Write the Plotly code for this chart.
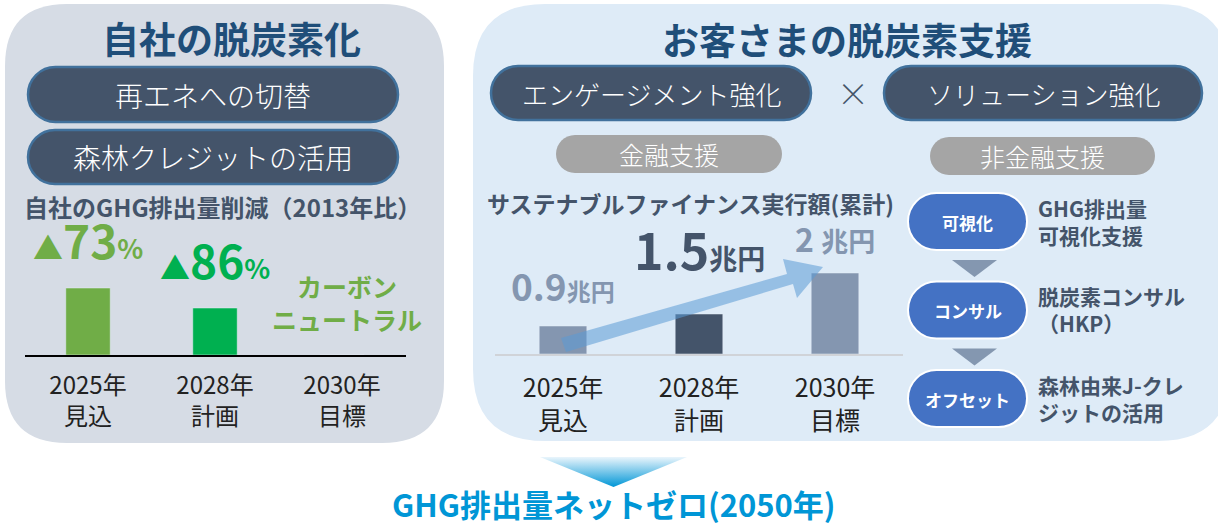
import plotly.graph_objects as go

# --- data -------------------------------------------------------------
years = ["2025年<br>見込", "2028年<br>計画", "2030年<br>目標"]

# own GHG reduction (vs 2013); bar heights as drawn in the picture
ghg_reduction = ["73", "86", None]
ghg_bar_height = [67, 47, 0]
ghg_bar_colors = ["#70ad47", "#00b050", "#00b050"]
ghg_label_colors = ["#70ad47", "#00b050"]

# sustainable finance (cumulative, trillion yen); bar heights as drawn
finance_value = ["0.9", "1.5", "2"]
finance_bar_height = [28, 40, 81]
finance_bar_colors = ["#8496b0", "#44546a", "#8496b0"]

flow_steps = ["可視化", "コンサル", "オフセット"]
flow_desc = ["GHG排出量<br>可視化支援", "脱炭素コンサル<br>（HKP）", "森林由来J-クレ<br>ジットの活用"]

W, H = 1218, 524
JP = "Noto Sans CJK JP"
NAVY = "#1f4e79"
SLATE = "#44546a"
K = 0.5523  # bezier circle factor


def rrect(x0, y0, x1, y1, r):
    return (f"M{x0+r},{y0} L{x1-r},{y0} Q{x1},{y0} {x1},{y0+r} L{x1},{y1-r} "
            f"Q{x1},{y1} {x1-r},{y1} L{x0+r},{y1} Q{x0},{y1} {x0},{y1-r} "
            f"L{x0},{y0+r} Q{x0},{y0} {x0+r},{y0} Z")


def pill(x0, y0, x1, y1):
    r = (y1 - y0) / 2
    ym = y0 + r
    k = r * K
    return (f"M{x0+r},{y0} L{x1-r},{y0} "
            f"C{x1-r+k},{y0} {x1},{ym-k} {x1},{ym} "
            f"C{x1},{ym+k} {x1-r+k},{y1} {x1-r},{y1} "
            f"L{x0+r},{y1} "
            f"C{x0+r-k},{y1} {x0},{ym+k} {x0},{ym} "
            f"C{x0},{ym-k} {x0+r-k},{y0} {x0+r},{y0} Z")


fig = go.Figure()

shapes = []
annotations = []


def shape(path, fill, line_color=None, line_width=0, layer="below"):
    shapes.append(dict(type="path", path=path, xref="x", yref="y", fillcolor=fill,
                       line=dict(color=line_color or fill, width=line_width), layer=layer))


def text(x, y, s, size, color, bold=False, xanchor="center", weight=None, align="center"):
    annotations.append(dict(x=x, y=y, xref="x", yref="y", text=f"<b>{s}</b>" if bold else s,
                            showarrow=False, xanchor=xanchor, yanchor="middle", align=align,
                            font=dict(family=JP, size=size, color=color,
                                      **({"weight": weight} if weight else {}))))


# panels
shape(rrect(5, 4, 444, 443, 62), "#d6dce5")
shape(rrect(473, 4, 1230, 441, 72), "#deebf7")

# left panel
text(231, 38, "自社の脱炭素化", 37, NAVY, bold=True)
shape(pill(28, 67, 398, 122), SLATE, "#41719c", 2.5)
shape(pill(28, 130, 398, 184), SLATE, "#41719c", 2.5)
text(213, 95, "再エネへの切替", 28, "white", weight=300)
text(213, 157, "森林クレジットの活用", 28, "white", weight=300)
text(222, 206, "自社のGHG排出量削減（2013年比）", 24, SLATE, bold=True)

# right panel
text(847, 39, "お客さまの脱炭素支援", 37, NAVY, bold=True)
shape(pill(491, 66, 811, 120), SLATE, "#41719c", 2.5)
shape(pill(884, 66, 1202, 120), SLATE, "#41719c", 2.5)
text(651, 93, "エンゲージメント強化", 26, "white", weight=300)
text(1043, 93, "ソリューション強化", 26, "white", weight=300)
text(853, 92, "×", 32, SLATE, weight=300)
shape(pill(556, 135, 782, 173), "#a5a5a5")
shape(pill(930, 137, 1155, 175), "#a5a5a5")
text(669, 154, "金融支援", 25, "white", weight=300)
text(1042, 156, "非金融支援", 25, "white", weight=300)
text(690, 203, "サステナブルファイナンス実行額(累計)", 23, SLATE, bold=True)

# flow of non-financial support
for i, (step, desc) in enumerate(zip(flow_steps, flow_desc)):
    y0 = 193 + i * 88.5
    shape(pill(908, y0, 1027, y0 + 57), "#4472c4", "white", 2)
    text(967.5, y0 + 29, step, 17, "white", bold=True)
    text(1036, y0 + 28, desc, 21, SLATE, bold=True, xanchor="left", align="left")
    if i < 2:
        ty = y0 + 67
        shape(f"M952,{ty} L997,{ty} L974.5,{ty+17} Z", "#8497b0")

# growth arrow over the finance bars
shape("M561,338 L787,274 L783,259 L823,267 L797,298 L793,284 L566,352 Z",
      "rgba(91,155,213,0.55)", layer="above")

# bottom arrow with gradient + net zero text
fig.add_trace(go.Scatter(
    x=[540, 687, 613.5, 540], y=[457, 457, 487, 457], mode="lines", fill="toself",
    line=dict(width=0), hoverinfo="skip", showlegend=False, xaxis="x", yaxis="y",
    fillgradient=dict(type="vertical", colorscale=[[0, "#0096d6"], [1, "#eaf5fc"]],
                      start=487, stop=457),
))
text(614, 503, "GHG排出量ネットゼロ(2050年)", 31, "#0096d6", bold=True)

# --- bar charts --------------------------------------------------------
fig.add_trace(go.Bar(x=[0, 1, 2], y=ghg_bar_height, marker_color=ghg_bar_colors,
                     width=0.35, xaxis="x2", yaxis="y2", hoverinfo="skip", showlegend=False))
fig.add_trace(go.Bar(x=[0, 1, 2], y=finance_bar_height, marker_color=finance_bar_colors,
                     width=0.35, xaxis="x3", yaxis="y3", hoverinfo="skip", showlegend=False))

for i, (pct, col) in enumerate(zip(ghg_reduction[:2], ghg_label_colors)):
    annotations.append(dict(
        x=i, y=ghg_bar_height[i], xref="x2", yref="y2", yanchor="bottom", yshift=14,
        showarrow=False, font=dict(family=JP, size=46, color=col),
        text=(f"<b><span style='font-size:30px'>▲</span>{pct}"
              f"<span style='font-size:27px'>%</span></b>")))
annotations.append(dict(x=2, y=0, xref="x2", yref="y2", yanchor="bottom", yshift=16,
                        xshift=5, showarrow=False,
                        font=dict(family=JP, size=25, color="#70ad47"),
                        text="<b>カーボン<br>ニュートラル</b>"))

fin_sizes = [(37, 24, "#8496b0"), (50, 28, SLATE), (32, 27, "#8496b0")]
fin_shift = [12, 28, 10]
for i, v in enumerate(finance_value):
    big, small, col = fin_sizes[i]
    sep = " " if i == 2 else ""
    annotations.append(dict(
        x=i, y=finance_bar_height[i], xref="x3", yref="y3", yanchor="bottom",
        yshift=fin_shift[i], showarrow=False, font=dict(family=JP, size=big, color=col),
        text=f"<b>{v}{sep}<span style='font-size:{small}px'>兆円</span></b>"))

hidden = dict(visible=False, fixedrange=True)
fig.update_layout(
    width=W, height=H, margin=dict(l=0, r=0, t=0, b=0),
    paper_bgcolor="white", plot_bgcolor="rgba(0,0,0,0)",
    xaxis=dict(range=[0, W], domain=[0, 1], **hidden),
    yaxis=dict(range=[H, 0], domain=[0, 1], **hidden),
    xaxis2=dict(range=[-0.5, 2.5], domain=[24.5 / W, 405.5 / W], anchor="y2",
                showline=True, linecolor="black", linewidth=2, showgrid=False,
                zeroline=False, ticks="", tickvals=[0, 1, 2], ticktext=years,
                ticklabelstandoff=8,
                tickfont=dict(family=JP, size=24, color="#222222"), fixedrange=True),
    yaxis2=dict(range=[0, 100], domain=[1 - 355 / H, 1 - 255 / H], anchor="x2", **hidden),
    xaxis3=dict(range=[-0.5, 2.5], domain=[495 / W, 903 / W], anchor="y3",
                showline=True, linecolor="#d0d3d8", linewidth=2, showgrid=False,
                zeroline=False, ticks="", tickvals=[0, 1, 2], ticktext=years,
                ticklabelstandoff=11,
                tickfont=dict(family=JP, size=25, color="#222222"), fixedrange=True),
    yaxis3=dict(range=[0, 100], domain=[1 - 354 / H, 1 - 254 / H], anchor="x3", **hidden),
    shapes=shapes, annotations=annotations, bargap=0.65,
)

fig.write_html("out.html", config={"displayModeBar": False},
               post_script="document.body.style.margin='0';")
